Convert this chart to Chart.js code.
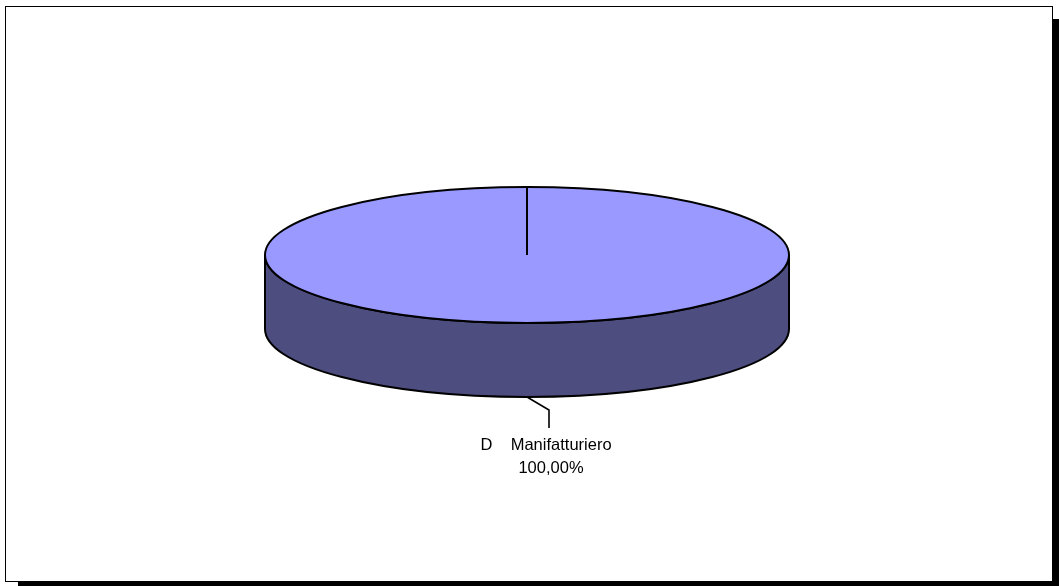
<!DOCTYPE html>
<html>
<head>
<meta charset="utf-8">
<script src="https://cdn.jsdelivr.net/npm/chart.js@4/dist/chart.umd.min.js"></script>
<style>
  html, body { margin: 0; padding: 0; background: #fff; }
  #wrap { width: 1059px; height: 586px; }
</style>
</head>
<body>
<div id="wrap"><canvas id="pie" width="1059" height="586"></canvas></div>
<script>
    "use strict";

    // Data
    var categories = ["D    Manifatturiero"];
    var values = [100];
    var colors = ["#9999ff"];
    var sideColors = ["#4d4d80"];

    // Ellipse used for the 3D look
    var ECX = 527, ECY = 255, RX = 262, RY = 68, DEPTH = 74;

    function pct(v) {
        var total = values.reduce(function (a, b) { return a + b; }, 0);
        return (v / total * 100).toFixed(2).replace(".", ",") + "%";
    }

    // Frame with shadow
    var frame = {
        id: "frame",
        beforeDraw: function (chart) {
            var ctx = chart.ctx;
            ctx.save();
            ctx.fillStyle = "#fff";
            ctx.fillRect(0, 0, chart.width, chart.height);
            ctx.fillStyle = "#000";
            ctx.fillRect(18, 581, 1041, 5);
            ctx.fillRect(1053, 19, 6, 567);
            ctx.strokeStyle = "#000";
            ctx.lineWidth = 1;
            ctx.strokeRect(5.5, 6.5, 1047, 575);
            ctx.restore();
        }
    };

    // Pie tilted into an ellipse, with side wall and label
    var pie3d = {
        id: "pie3d",
        beforeDatasetsDraw: function (chart) {
            var ctx = chart.ctx;
            var arc = chart.getDatasetMeta(0).data[0];
            ctx.save();
            ctx.beginPath();
            ctx.moveTo(ECX - RX, ECY);
            ctx.lineTo(ECX - RX, ECY + DEPTH);
            ctx.ellipse(ECX, ECY + DEPTH, RX, RY, 0, Math.PI, 0, true);
            ctx.lineTo(ECX + RX, ECY);
            ctx.ellipse(ECX, ECY, RX, RY, 0, 0, Math.PI, false);
            ctx.closePath();
            ctx.fillStyle = sideColors[0];
            ctx.fill();
            ctx.lineWidth = 2;
            ctx.strokeStyle = "#000";
            ctx.stroke();

            ctx.translate(ECX, ECY);
            ctx.scale(RX / arc.outerRadius, RY / arc.outerRadius);
            ctx.translate(-arc.x, -arc.y);
        },
        afterDatasetsDraw: function (chart) {
            var ctx = chart.ctx;
            ctx.restore();
            var meta = chart.getDatasetMeta(0);
            ctx.save();
            ctx.strokeStyle = "#000";
            ctx.lineWidth = 2;
            ctx.beginPath();
            ctx.ellipse(ECX, ECY, RX, RY, 0, 0, Math.PI * 2);
            ctx.stroke();

            meta.data.forEach(function (el, i) {
                var a = el.startAngle;
                ctx.beginPath();
                ctx.moveTo(ECX, ECY);
                ctx.lineTo(ECX + RX * Math.cos(a), ECY + RY * Math.sin(a));
                ctx.stroke();

                // leader line + label
                var m = (el.startAngle + el.endAngle) / 2;
                var ax = ECX + RX * Math.cos(m);
                var ay = ECY + DEPTH + RY * Math.sin(m);
                ctx.lineWidth = 1.6;
                ctx.beginPath();
                ctx.moveTo(ax, ay);
                ctx.lineTo(ax + 22, ay + 13);
                ctx.lineTo(ax + 22, ay + 31);
                ctx.stroke();

                ctx.fillStyle = "#000";
                ctx.font = "16.5px 'Liberation Sans', Arial, sans-serif";
                ctx.textAlign = "center";
                ctx.textBaseline = "alphabetic";
                ctx.fillText(categories[i], ax + 19, ay + 53);
                ctx.fillText(pct(values[i]), ax + 24, ay + 76);
            });
            ctx.restore();
        }
    };

    var myChart = new Chart(document.getElementById("pie").getContext("2d"), {
        type: "pie",
        data: {
            labels: categories,
            datasets: [{
                data: values,
                backgroundColor: colors,
                borderWidth: 0,
                clip: false
            }]
        },
        options: {
            responsive: false,
            animation: false,
            events: [],
            layout: { padding: { top: 40, bottom: 40 } },
            plugins: {
                legend: { display: false },
                tooltip: { enabled: false }
            }
        },
        plugins: [frame, pie3d]
    });
</script>
</body>
</html>
